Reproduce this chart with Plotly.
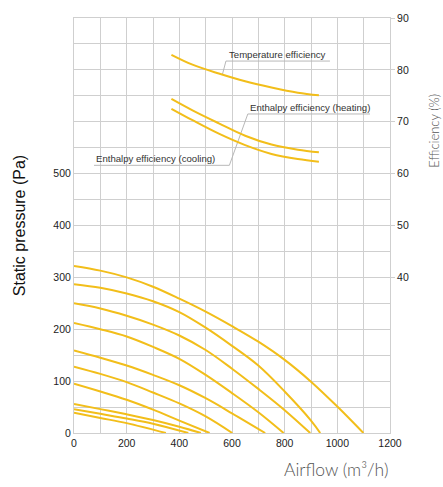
import plotly.graph_objects as go

# ---- Fan curves: airflow (m3/h) vs static pressure (Pa) ----
c1_x = [0, 100, 200, 300, 400, 500, 600, 700, 800, 900, 1000, 1099]
c1_y = [322, 313, 300, 282, 259, 234, 206, 176, 141, 99, 51, 0]
c2_x = [0, 100, 200, 300, 400, 500, 600, 700, 800, 900, 935]
c2_y = [287, 280, 269, 254, 233, 203, 168, 130, 80, 24, 0]
c3_x = [0, 100, 200, 300, 400, 500, 600, 700, 800, 897]
c3_y = [250, 240, 226, 209, 188, 160, 124, 85, 44, 0]
c4_x = [0, 100, 200, 300, 400, 500, 600, 700, 796]
c4_y = [212, 200, 186, 166, 143, 112, 77, 40, 0]
c5_x = [0, 100, 200, 300, 400, 500, 600, 726]
c5_y = [159, 145, 130, 112, 92, 67, 38, 0]
c6_x = [0, 100, 200, 300, 400, 500, 601]
c6_y = [128, 114, 98, 78, 57, 32, 0]
c7_x = [0, 100, 200, 300, 400, 515]
c7_y = [95, 80, 64, 45, 24, 0]
c8_x = [0, 100, 200, 300, 400, 482]
c8_y = [56, 46, 36, 25, 12, 0]
c9_x = [0, 100, 200, 300, 434]
c9_y = [46, 37, 28, 18, 0]
c10_x = [0, 100, 200, 349]
c10_y = [39, 29, 19, 0]

fan_x = [c1_x, c2_x, c3_x, c4_x, c5_x, c6_x, c7_x, c8_x, c9_x, c10_x]
fan_y = [c1_y, c2_y, c3_y, c4_y, c5_y, c6_y, c7_y, c8_y, c9_y, c10_y]

# ---- Efficiency curves (%) ----
eff_x = [370, 450, 550, 650, 750, 850, 930]
temp_eff = [82.9, 81.0, 79.3, 77.8, 76.6, 75.6, 75.1]
heat_eff = [74.4, 72.2, 69.7, 67.3, 65.6, 64.6, 64.1]
cool_eff = [72.5, 70.3, 67.7, 65.5, 63.8, 62.8, 62.3]

labels = ["Temperature efficiency", "Enthalpy efficiency (heating)", "Enthalpy efficiency (cooling)"]

# tick labels
x_ticks = list(range(0, 1201, 100))
x_text = [str(v) if v % 200 == 0 else "" for v in x_ticks]
y_ticks = list(range(0, 801, 50))
y_text = [str(v) if (v % 100 == 0 and v <= 500) else "" for v in y_ticks]
y2_ticks = [40, 50, 60, 70, 80, 90]

YELLOW = "#F2BE1A"
GRID = "#cfcfcf"
LEADER = "#b8b8b8"

fig = go.Figure()

# leader lines (under curves)
fig.add_trace(go.Scatter(x=[577, 972], y=[81.7, 81.7], yaxis="y2", mode="lines",
                         line=dict(color=LEADER, width=1), hoverinfo="skip", showlegend=False))
fig.add_trace(go.Scatter(x=[563, 577], y=[79.0, 81.7], yaxis="y2", mode="lines",
                         line=dict(color=LEADER, width=1), hoverinfo="skip", showlegend=False))
fig.add_trace(go.Scatter(x=[76, 590, 660, 1124], y=[61.6, 61.6, 71.5, 71.5], yaxis="y2", mode="lines",
                         line=dict(color=LEADER, width=1), hoverinfo="skip", showlegend=False))

for xs, ys in zip(fan_x, fan_y):
    fig.add_trace(go.Scatter(x=xs, y=ys, mode="lines",
                             line=dict(color=YELLOW, width=2, shape="spline", smoothing=1),
                             hoverinfo="skip", showlegend=False))

for ys in [temp_eff, heat_eff, cool_eff]:
    fig.add_trace(go.Scatter(x=eff_x, y=ys, yaxis="y2", mode="lines",
                             line=dict(color=YELLOW, width=2, shape="spline", smoothing=1),
                             hoverinfo="skip", showlegend=False))

ann_font = dict(family="Liberation Sans, Arial, sans-serif", size=9.6, color="#333333")
annotations = [
    dict(x=580, y=81.7, xref="x", yref="y2", text=labels[0], showarrow=False,
         xanchor="left", yanchor="bottom", font=ann_font, yshift=-1),
    dict(x=662, y=71.5, xref="x", yref="y2", text=labels[1], showarrow=False,
         xanchor="left", yanchor="bottom", font=ann_font, yshift=-1),
    dict(x=76, y=61.6, xref="x", yref="y2", text=labels[2], showarrow=False,
         xanchor="left", yanchor="bottom", font=ann_font, yshift=-1),
    dict(x=1.0, y=-0.0875, xref="paper", yref="paper", text="Airflow (m³/h)", showarrow=False,
         xanchor="right", yanchor="middle",
         font=dict(family="Lato, sans-serif", size=17.5, color="#555555", weight=300)),
    dict(x=1.139, y=0.728, xref="paper", yref="paper", text="Efficiency (%)", showarrow=False,
         xanchor="center", yanchor="middle", textangle=-90,
         font=dict(family="Lato, sans-serif", size=13, color="#555555", weight=300)),
]

tick_font = dict(family="Liberation Sans, Arial, sans-serif", size=10.5, color="#222222")

fig.update_layout(
    width=443, height=487,
    margin=dict(l=74, r=53, t=14, b=54),
    paper_bgcolor="white", plot_bgcolor="white",
    annotations=annotations,
    xaxis=dict(range=[0, 1200], tickvals=x_ticks, ticktext=x_text, showgrid=True,
               gridcolor=GRID, gridwidth=1, zeroline=False, showline=True, linecolor=GRID,
               mirror=True, ticks="", tickfont=tick_font),
    yaxis=dict(range=[0, 800], tickvals=y_ticks, ticktext=y_text, showgrid=True,
               gridcolor=GRID, gridwidth=1, zeroline=False, showline=True, linecolor=GRID,
               mirror=True, ticks="", tickfont=tick_font,
               title=dict(text="Static pressure (Pa)", standoff=23,
                          font=dict(family="Liberation Sans, Arial, sans-serif", size=16, color="#111111"))),
    yaxis2=dict(range=[10, 90], overlaying="y", side="right", tickvals=y2_ticks,
                showgrid=False, zeroline=False, showline=False, ticks="outside", ticklen=4,
                tickcolor=GRID, tickfont=tick_font),
)

fig.write_html("out.html")
